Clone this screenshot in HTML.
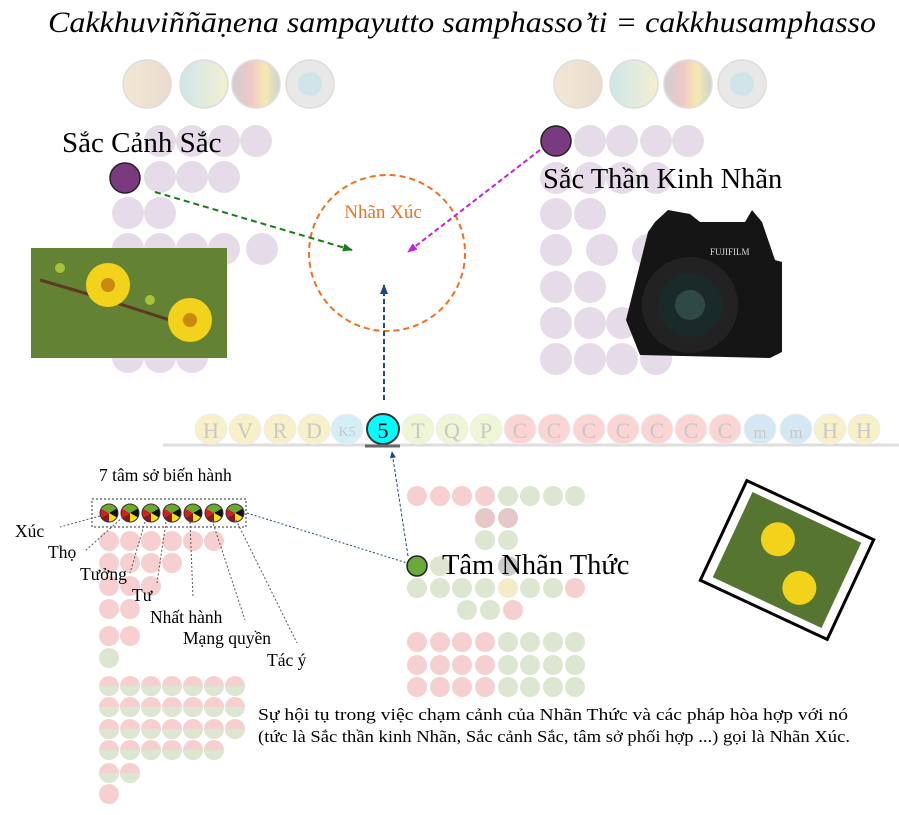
<!DOCTYPE html>
<html><head><meta charset="utf-8"><style>
body{margin:0;background:#fff;width:899px;height:815px;overflow:hidden}
svg{display:block}
text{font-family:"Liberation Serif",serif}
</style></head><body>
<svg id="s" width="899" height="815" viewBox="0 0 899 815" xmlns="http://www.w3.org/2000/svg">
<defs>
<marker id="ag" markerUnits="userSpaceOnUse" markerWidth="10" markerHeight="8" refX="9" refY="4" orient="auto"><path d="M0,0L10,4L0,8z" fill="#1a7a1a"/></marker>
<marker id="am" markerUnits="userSpaceOnUse" markerWidth="10" markerHeight="8" refX="9" refY="4" orient="auto"><path d="M0,0L10,4L0,8z" fill="#c020e0"/></marker>
<marker id="ab" markerUnits="userSpaceOnUse" markerWidth="10" markerHeight="8" refX="9" refY="4" orient="auto"><path d="M0,0L10,4L0,8z" fill="#1a4a80"/></marker>
<marker id="ab2" markerUnits="userSpaceOnUse" markerWidth="7" markerHeight="6" refX="6" refY="3" orient="auto"><path d="M0,0L7,3L0,6z" fill="#1a4a80"/></marker>
<linearGradient id="g1"><stop offset="0" stop-color="#f3e7d6"/><stop offset="1" stop-color="#eadccc"/></linearGradient>
<linearGradient id="g2"><stop offset="0" stop-color="#cfe6ea"/><stop offset="1" stop-color="#f3efd0"/></linearGradient>
<linearGradient id="g3"><stop offset="0" stop-color="#cfcfcf"/><stop offset=".4" stop-color="#f0c8c8"/><stop offset=".7" stop-color="#f3eab0"/><stop offset="1" stop-color="#cfcfcf"/></linearGradient>
</defs>
<g id="bg"></g>
<text x="462" y="32" font-size="30" font-style="italic" text-anchor="middle" textLength="828" lengthAdjust="spacingAndGlyphs">Cakkhuviññāṇena sampayutto samphasso’ti = cakkhusamphasso</text>
<text x="62" y="152" font-size="29">Sắc Cảnh Sắc</text>
<text x="543" y="188" font-size="28.5">Sắc Thần Kinh Nhãn</text>
<g>
<rect x="31" y="248" width="196" height="110" fill="#4f6b2a"/>
<rect x="31" y="248" width="196" height="110" fill="#7a9a3e" opacity=".5"/>
<path d="M40,280 Q110,300 200,330" stroke="#5a3a20" stroke-width="3" fill="none"/>
<circle cx="108" cy="285" r="22" fill="#f2d21a"/><circle cx="108" cy="285" r="7" fill="#c88a10"/>
<circle cx="190" cy="320" r="22" fill="#f2d21a"/><circle cx="190" cy="320" r="7" fill="#c88a10"/>
<circle cx="60" cy="268" r="5" fill="#a8c23a"/><circle cx="150" cy="300" r="5" fill="#a8c23a"/>
</g>
<g>
<path d="M655,222 L668,210 L690,214 L700,222 L745,222 L752,210 L762,222 L775,260 L782,262 L782,352 L770,358 L640,355 L626,320 L648,232 Z" fill="#151515"/>
<circle cx="690" cy="305" r="48" fill="#222"/><circle cx="690" cy="305" r="32" fill="#1a2a28"/><circle cx="690" cy="305" r="15" fill="#2f4a44"/>
<text x="710" y="255" font-size="9" fill="#ddd" font-family="Liberation Sans">FUJIFILM</text>
</g>
<g transform="rotate(25 787 560)">
<rect x="717" y="505" width="140" height="110" fill="#fff" stroke="#000" stroke-width="3"/>
<rect x="727" y="513" width="120" height="94" fill="#557530"/>
<circle cx="770" cy="545" r="17" fill="#f2d21a"/><circle cx="810" cy="580" r="17" fill="#f2d21a"/>
</g>
<circle cx="387" cy="253" r="78" fill="none" stroke="#f07020" stroke-width="2" stroke-dasharray="6,4"/>
<text x="383" y="218" font-size="19" fill="#f07020" text-anchor="middle">Nhãn Xúc</text>
<line x1="155" y1="192" x2="352" y2="250" stroke="#1a7a1a" stroke-width="2" stroke-dasharray="6,4" marker-end="url(#ag)"/>
<line x1="540" y1="150" x2="408" y2="252" stroke="#c020e0" stroke-width="2" stroke-dasharray="5,3" marker-end="url(#am)"/>
<line x1="384" y1="400" x2="384" y2="285" stroke="#1a4a80" stroke-width="2" stroke-dasharray="5,3" marker-end="url(#ab)"/>
<line x1="408" y1="556" x2="392" y2="452" stroke="#1a4a80" stroke-width="1" stroke-dasharray="3,2" marker-end="url(#ab2)"/>
<line x1="247" y1="513" x2="407" y2="563" stroke="#1a4a80" stroke-width="1" stroke-dasharray="2,2"/>
<line x1="163" y1="445" x2="899" y2="445" stroke="#ddd" stroke-width="3"/>
<g id="bar"></g>
<text x="99" y="481" font-size="17.5">7 tâm sở biến hành</text>
<rect x="92" y="499" width="154" height="28" fill="none" stroke="#234" stroke-dasharray="2,2"/>
<g id="seven"></g>
<g stroke="#555" stroke-width="1" stroke-dasharray="2,2" fill="none">
<line x1="100" y1="516" x2="60" y2="527"/><line x1="123" y1="517" x2="85" y2="551"/>
<line x1="145" y1="522" x2="130" y2="573"/><line x1="166" y1="522" x2="157" y2="583"/>
<line x1="190" y1="522" x2="193" y2="598"/><line x1="212" y1="520" x2="245" y2="620"/>
<line x1="236" y1="520" x2="297" y2="643"/>
</g>
<g font-size="17.5">
<text x="15" y="537">Xúc</text><text x="48" y="558">Thọ</text><text x="80" y="580">Tưởng</text>
<text x="132" y="601">Tư</text><text x="150" y="623">Nhất hành</text><text x="183" y="644">Mạng quyền</text>
<text x="267" y="666">Tác ý</text>
</g>
<circle cx="417" cy="566" r="10" fill="#6aaa3a" stroke="#222" stroke-width="1.5"/>
<text x="442" y="574" font-size="28.5">Tâm Nhãn Thức</text>
<text x="258" y="720" font-size="17" textLength="590" lengthAdjust="spacingAndGlyphs">Sự hội tụ trong việc chạm cảnh của Nhãn Thức và các pháp hòa hợp với nó</text>
<text x="258" y="742" font-size="17" textLength="592" lengthAdjust="spacingAndGlyphs">(tức là Sắc thần kinh Nhãn, Sắc cảnh Sắc, tâm sở phối hợp ...) gọi là Nhãn Xúc.</text>
</svg>
<script>
var NS="http://www.w3.org/2000/svg";
function c(g,x,y,r,f,st){var e=document.createElementNS(NS,"circle");e.setAttribute("cx",x);e.setAttribute("cy",y);e.setAttribute("r",r);e.setAttribute("fill",f);if(st){e.setAttribute("stroke",st);e.setAttribute("stroke-width",1.5)}g.appendChild(e);return e}
var bg=document.getElementById("bg");
var L="#e6dbe8";
[[147,"url(#g1)"],[204,"url(#g2)"],[256,"url(#g3)"],[310,"#e8e8e8"]].forEach(function(a){c(bg,a[0],84,24,a[1],"#ddd")});
[[578,"url(#g1)"],[634,"url(#g2)"],[688,"url(#g3)"],[742,"#e8e8e8"]].forEach(function(a){c(bg,a[0],84,24,a[1],"#ddd")});
c(bg,310,84,12,"#cfe3ea");c(bg,742,84,12,"#cfe3ea");
var lrows=[[141,[160,192,224,256]],[177,[160,192,224]],[213,[128,160]],[249,[128,160,192,224,262]],[285,[128,160]],[321,[128,160,192]],[357,[128,160,192]]];
lrows.forEach(function(r){r[1].forEach(function(x){c(bg,x,r[0],16,L)})});
var rrows=[[141,[590,622,656,688]],[178,[556,590,622,656]],[214,[556,590]],[250,[556,602,648]],[287,[556,590]],[323,[556,590,622]],[359,[556,590,622,656]]];
rrows.forEach(function(r){r[1].forEach(function(x){c(bg,x,r[0],16,L)})});
c(bg,125,178,15,"#7a3a80","#222");c(bg,556,141,15,"#7a3a80","#222");
var P="#f6d0d0",G="#dde6d0";
function row(y,xs,cols){xs.forEach(function(x,i){c(bg,x,y,10,cols[i])})}
var X=[417,440,462,485,508,530,553,575];
row(496,X,[P,P,P,P,G,G,G,G]);
row(518,[485,508],["#e6c8c8","#e6c8c8"]);row(540,[485,508],[G,G]);
row(588,X,[G,G,G,G,"#f4ecc8",G,G,P]);row(610,[467,490,513],[G,G,P]);
[642,665,687].forEach(function(y){row(y,X,[P,P,P,P,G,G,G,G])});
c(bg,440,566,10,G);c(bg,508,566,10,"#ccc");
var lx=[109,130,151,172,193,214,235];
function half(y,n){for(var i=0;i<n;i++){c(bg,lx[i],y,10,P);}}
half(541,6);half(563,4);half(586,3);half(609,2);half(636,2);c(bg,109,658,10,G);
function hb(x,y){c(bg,x,y,10,P);var e=document.createElementNS(NS,"path");e.setAttribute("d","M"+(x-10)+","+y+"a10,10 0 0,0 20,0z");e.setAttribute("fill",G);bg.appendChild(e)}
[686,707,729].forEach(function(y){for(var i=0;i<7;i++)hb(lx[i],y)});
[[750,6],[773,2]].forEach(function(a){for(var i=0;i<a[1];i++)hb(lx[i],a[0])});
c(bg,109,794,10,P);
var bar=document.getElementById("bar");
var items=[["H",211,"#f8f0c8"],["V",245,"#f8f0c8"],["R",280,"#f8f0c8"],["D",314,"#f8f0c8"],["K5",347,"#d4eef6"],["5",383,"#00ffff"],["T",418,"#eef6d6"],["Q",452,"#eef6d6"],["P",486,"#eef6d6"],["C",520,"#fbd4d4"],["C",554,"#fbd4d4"],["C",589,"#fbd4d4"],["C",623,"#fbd4d4"],["C",657,"#fbd4d4"],["C",691,"#fbd4d4"],["C",725,"#fbd4d4"],["m",760,"#d4e8f4"],["m",796,"#d4e8f4"],["H",830,"#f8f0c8"],["H",864,"#f8f0c8"]];
items.forEach(function(it){
 var e=document.createElementNS(NS,"ellipse");e.setAttribute("cx",it[1]);e.setAttribute("cy",429);e.setAttribute("rx",16);e.setAttribute("ry",15);e.setAttribute("fill",it[2]);
 e.setAttribute("stroke",it[0]=="5"?"#333":"#eee");e.setAttribute("stroke-width",it[0]=="5"?2:1);bar.appendChild(e);
 var t=document.createElementNS(NS,"text");t.setAttribute("x",it[1]);t.setAttribute("y",it[0]=="K5"?436:438);t.setAttribute("text-anchor","middle");
 t.setAttribute("font-size",it[0]=="K5"?14:(it[0]=="m"?17:22));t.setAttribute("fill",it[0]=="5"?"#000":"#c8c8c8");t.textContent=it[0];bar.appendChild(t);
});
var ln=document.createElementNS(NS,"line");ln.setAttribute("x1",365);ln.setAttribute("x2",400);ln.setAttribute("y1",446);ln.setAttribute("y2",446);ln.setAttribute("stroke","#666");ln.setAttribute("stroke-width",3);bar.appendChild(ln);
var sv=document.getElementById("seven");
lx.forEach(function(x){var y=513,r=9;
 var segs=[["#6aaa2a",-90,-30],["#111",-30,30],["#f0e020",30,90],["#8a1a1a",90,150],["#d02020",150,210],["#6aaa2a",210,270]];
 segs.forEach(function(s){var a1=s[1]*Math.PI/180,a2=s[2]*Math.PI/180;var p=document.createElementNS(NS,"path");
 p.setAttribute("d","M"+x+","+y+"L"+(x+r*Math.cos(a1))+","+(y+r*Math.sin(a1))+"A"+r+","+r+" 0 0,1 "+(x+r*Math.cos(a2))+","+(y+r*Math.sin(a2))+"Z");p.setAttribute("fill",s[0]);sv.appendChild(p)});
 var o=c(sv,x,y,r,"none","#333");o.setAttribute("stroke-width",1);
});
</script>
</body></html>
